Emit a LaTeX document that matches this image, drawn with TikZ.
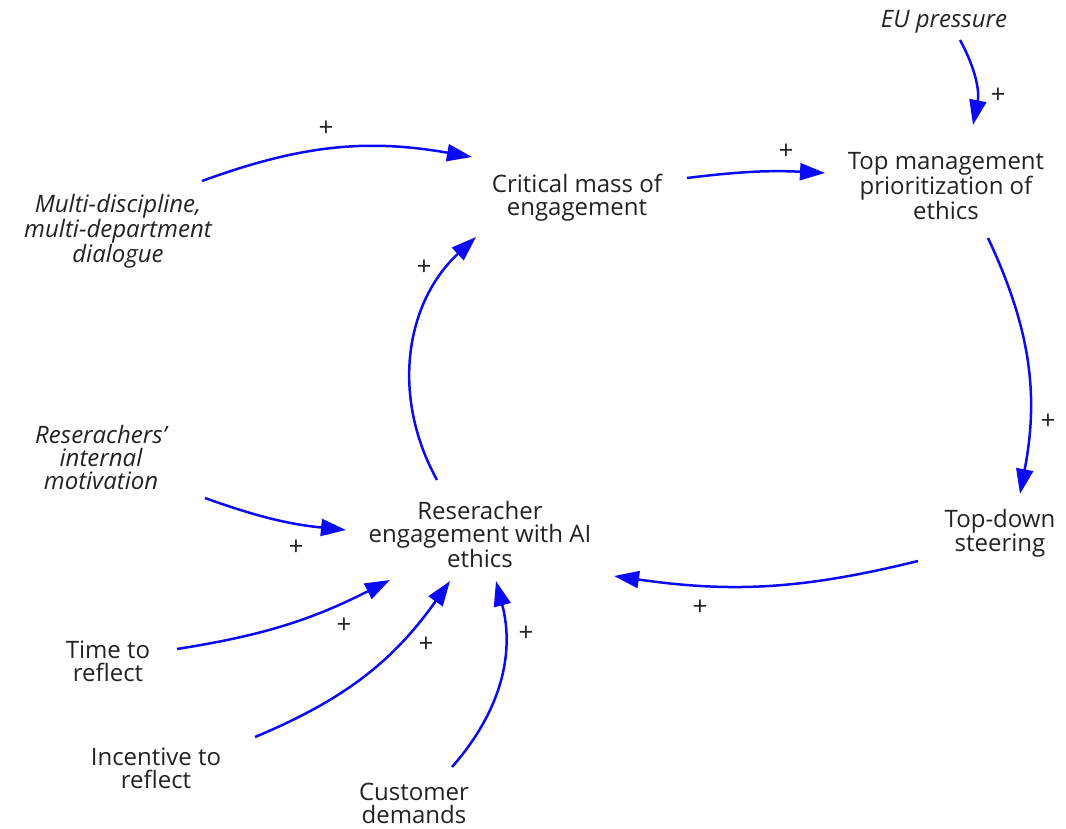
\documentclass[tikz,border=0pt]{standalone}
\usepackage{fontspec}
\setmainfont{Open Sans}
\usetikzlibrary{arrows.meta}
\definecolor{txt}{HTML}{222222}
\definecolor{linkblue}{HTML}{0A0AF5}
\begin{document}
\begin{tikzpicture}[x=1pt,y=-1pt,
  var/.style={align=center,text=txt,font=\fontsize{24}{23}\selectfont,inner sep=0pt},
  exo/.style={var,font=\fontsize{24}{23}\selectfont\itshape},
  lnk/.style={draw=linkblue,line width=2.5pt,-{Triangle[length=25pt,width=17pt]}},
  pl/.style={text=txt,font=\fontsize{26}{26}\selectfont,inner sep=0pt}]
\useasboundingbox (0,0) rectangle (1066,829);

% variables
\node[var] (crit) at (577,198) {Critical mass of\\engagement};
\node[var] (top) at (946,186) {Top management\\prioritization of\\ethics};
\node[exo] (eu) at (944,22) {EU pressure};
\node[exo] (multi) at (118,231) {Multi-discipline,\\multi-department\\dialogue};
\node[var] (res) at (480,534) {Reseracher\\engagement with AI\\ethics};
\node[exo] (motiv) at (101,457) {Reserachers'\\internal\\motivation};
\node[var] (steer) at (1000,533) {Top-down\\steering};
\node[var] (time) at (108,661) {Time to\\reflect};
\node[var] (incent) at (156,768) {Incentive to\\reflect};
\node[var] (cust) at (414,803) {Customer\\demands};

% causal links
\draw[lnk] ([shift={(84,-50)}]multi.center) to[bend left=15] ([shift={(-105,-41)}]crit.center);
\draw[lnk] ([shift={(110,-20)}]crit.center) to[bend left=5] ([shift={(-121,-13)}]top.center);
\draw[lnk] ([shift={(16,18)}]eu.center) to[bend left=20] ([shift={(27,-61)}]top.center);
\draw[lnk] ([shift={(42,52)}]top.center) to[bend left=18] ([shift={(20,-39)}]steer.center);
\draw[lnk] ([shift={(-82,28)}]steer.center) to[bend left=11] ([shift={(134,42)}]res.center);
\draw[lnk] ([shift={(-43,-54)}]res.center) to[bend left=38] ([shift={(-101,39)}]crit.center);
\draw[lnk] ([shift={(104,41)}]motiv.center) to[bend right=7] ([shift={(-134,-4)}]res.center);
\draw[lnk] ([shift={(69,-12)}]time.center) to[bend right=9] ([shift={(-90,46)}]res.center);
\draw[lnk] ([shift={(99,-31)}]incent.center) to[bend right=16] ([shift={(-30,47)}]res.center);
\draw[lnk] ([shift={(38,-36)}]cust.center) to[bend right=28] ([shift={(16,47)}]res.center);

% polarities
\node[pl] (p1) at (326,129) {+};
\node[pl] (p2) at (786,152) {+};
\node[pl] (p3) at (998,96) {+};
\node[pl] (p4) at (1048,422) {+};
\node[pl] (p5) at (700,608) {+};
\node[pl] (p6) at (424,268) {+};
\node[pl] (p7) at (296,548) {+};
\node[pl] (p8) at (344,626) {+};
\node[pl] (p9) at (426,645) {+};
\node[pl] (p10) at (526,634) {+};
\end{tikzpicture}
\end{document}
